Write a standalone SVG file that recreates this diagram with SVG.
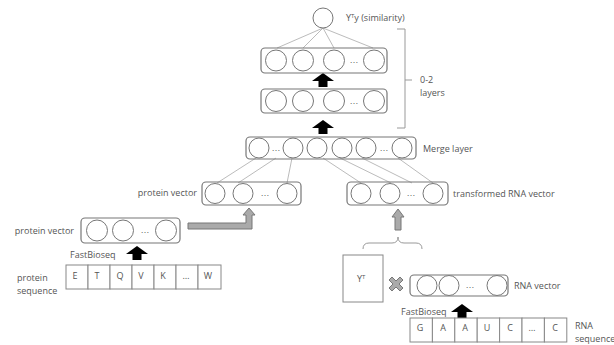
<svg xmlns="http://www.w3.org/2000/svg" width="614" height="345" viewBox="0 0 614 345">
<defs>
<style>
.t{font-family:"Open Sans","Liberation Sans",sans-serif;font-size:9px;fill:#555}
.c{fill:#fff;stroke:#777;stroke-width:1}
.b{fill:none;stroke:#777;stroke-width:1.2}
.cell{fill:#fff;stroke:#888;stroke-width:1}
.ln{stroke:#aaa;stroke-width:0.8;fill:none}
.dots{font-family:"Liberation Sans",sans-serif;font-size:9px;fill:#666;text-anchor:middle}
.blk{fill:#000}
.gry{fill:#aaa;stroke:#777;stroke-width:1}
.ct{font-family:"Open Sans","Liberation Sans",sans-serif;font-size:9px;fill:#555;text-anchor:middle}
</style>
<path id="barrow" d="M0,0 L11,8 L4.5,8 L4.5,14 L-4.5,14 L-4.5,8 L-11,8 Z"/>
</defs>

<g id="connectors">
  <path class="ln" d="M323,28 L277,48 M323,28 L303,48 M323,28 L334,48 M323,28 L373,48"/>
  <path class="ln" d="M256,158 L217,183 M276,158 L238,183 M292,158 L287,183"/>
  <path class="ln" d="M323,158 L361,183 M340,158 L391,183 M362,158 L412,183 M398,158 L433,183"/>
  <use href="#barrow" class="blk" x="323" y="73"/>
  <use href="#barrow" class="blk" x="323" y="120"/>
  <use href="#barrow" class="blk" x="137" y="246"/>
  <use href="#barrow" class="blk" x="462" y="304"/>
  <path class="gry" d="M188,223 L246,223 L246,215 L243,215 L249,208 L255,215 L252,215 L252,229 L188,229 Z"/>
  <path class="gry" d="M398,209 L404,217 L401,217 L401,230 L395,230 L395,217 L392,217 Z"/>
  <path d="M363,249 Q363,243 369,243 L392,243 Q398,243 398,237 Q398,243 404,243 L416,243 Q422,243 422,249" fill="none" stroke="#999" stroke-width="1"/>
  <path d="M397,29 L405,29 L405,128 L397,128 M405,80 L412,80" fill="none" stroke="#999" stroke-width="1"/>
  <path class="gry" transform="translate(396,284)" d="M-7,-4 L-4,-7 L0,-3 L4,-7 L7,-4 L3,0 L7,4 L4,7 L0,3 L-4,7 L-7,4 L-3,0 Z"/>
</g>

<g id="output">
  <circle class="c" cx="323" cy="18" r="10"/>
  <text class="t" x="346" y="21">Y<tspan font-size="6" dy="-3">T</tspan><tspan dy="3">y (similarity)</tspan></text>
</g>

<g id="hidden2">
  <rect class="b" x="261" y="48" width="126" height="25" rx="4"/>
  <circle class="c" cx="276" cy="60.5" r="10.5"/>
  <circle class="c" cx="303" cy="60.5" r="10.5"/>
  <circle class="c" cx="334" cy="60.5" r="10.5"/>
  <text class="dots" x="354" y="63">…</text>
  <circle class="c" cx="374" cy="60.5" r="10.5"/>
</g>

<g id="hidden1">
  <rect class="b" x="261" y="89" width="126" height="24" rx="4"/>
  <circle class="c" cx="276" cy="101" r="10.5"/>
  <circle class="c" cx="303" cy="101" r="10.5"/>
  <circle class="c" cx="334" cy="101" r="10.5"/>
  <text class="dots" x="354" y="103.5">…</text>
  <circle class="c" cx="374" cy="101" r="10.5"/>
</g>

<g id="layers-label">
  <text class="t" x="420" y="83">0-2</text>
  <text class="t" x="420" y="96">layers</text>
</g>

<g id="merge">
  <rect class="b" x="246" y="137" width="170" height="22" rx="4"/>
  <circle class="c" cx="259" cy="148" r="10"/>
  <text class="dots" x="276" y="150.5">…</text>
  <circle class="c" cx="293" cy="148" r="10"/>
  <circle class="c" cx="317" cy="148" r="10"/>
  <circle class="c" cx="342" cy="148" r="10"/>
  <circle class="c" cx="366" cy="148" r="10"/>
  <text class="dots" x="384" y="150.5">…</text>
  <circle class="c" cx="402" cy="148" r="10"/>
  <text class="t" x="423" y="152">Merge layer</text>
</g>

<g id="protein-vector-top">
  <rect class="b" x="202" y="182" width="99" height="23" rx="4"/>
  <circle class="c" cx="215" cy="193.5" r="10"/>
  <circle class="c" cx="243" cy="193.5" r="10"/>
  <text class="dots" x="265" y="196">…</text>
  <circle class="c" cx="287" cy="193.5" r="10"/>
  <text class="t" x="197" y="196" text-anchor="end">protein vector</text>
</g>

<g id="rna-vector-transformed">
  <rect class="b" x="347" y="182" width="101" height="23" rx="4"/>
  <circle class="c" cx="361" cy="193.5" r="10"/>
  <circle class="c" cx="390" cy="193.5" r="10"/>
  <text class="dots" x="411" y="196">…</text>
  <circle class="c" cx="433" cy="193.5" r="10"/>
  <text class="t" x="453" y="197">transformed RNA vector</text>
</g>

<g id="protein-vector">
  <rect class="b" x="81" y="218" width="99" height="25" rx="4"/>
  <circle class="c" cx="97" cy="230.5" r="10.5"/>
  <circle class="c" cx="123" cy="230.5" r="10.5"/>
  <text class="dots" x="145" y="233">…</text>
  <circle class="c" cx="166" cy="230.5" r="10.5"/>
  <text class="t" x="74" y="234" text-anchor="end">protein vector</text>
  <text class="t" x="70" y="258">FastBioseq</text>
</g>

<g id="protein-sequence">
  <rect class="cell" x="66" y="265" width="22" height="24"/>
  <rect class="cell" x="88" y="265" width="22" height="24"/>
  <rect class="cell" x="110" y="265" width="22" height="24"/>
  <rect class="cell" x="132" y="265" width="22" height="24"/>
  <rect class="cell" x="154" y="265" width="22" height="24"/>
  <rect class="cell" x="176" y="265" width="22" height="24"/>
  <rect class="cell" x="198" y="265" width="23" height="24"/>
  <text class="ct" x="75" y="279">E</text>
  <text class="ct" x="97" y="279">T</text>
  <text class="ct" x="120" y="279">Q</text>
  <text class="ct" x="141" y="279">V</text>
  <text class="ct" x="163" y="279">K</text>
  <text class="ct" x="186" y="279">…</text>
  <text class="ct" x="208" y="279">W</text>
  <text class="t" x="17" y="281">protein</text>
  <text class="t" x="17" y="294">sequence</text>
</g>

<g id="yt">
  <rect class="cell" x="343" y="255" width="40" height="47"/>
  <text class="t" x="357" y="282">Y<tspan font-size="6" dy="-3">T</tspan></text>
</g>

<g id="rna-vector">
  <rect class="b" x="410" y="275" width="98" height="21" rx="4"/>
  <circle class="c" cx="427" cy="285.5" r="10"/>
  <circle class="c" cx="449" cy="285.5" r="10"/>
  <text class="dots" x="470" y="288">…</text>
  <circle class="c" cx="497" cy="285.5" r="10"/>
  <text class="t" x="514" y="289">RNA vector</text>
  <text class="t" x="401" y="315">FastBioseq</text>
</g>

<g id="rna-sequence">
  <rect class="cell" x="410" y="318" width="22.4" height="24"/>
  <rect class="cell" x="432.4" y="318" width="22.4" height="24"/>
  <rect class="cell" x="454.8" y="318" width="22.4" height="24"/>
  <rect class="cell" x="477.2" y="318" width="22.4" height="24"/>
  <rect class="cell" x="499.6" y="318" width="22.4" height="24"/>
  <rect class="cell" x="522" y="318" width="22.4" height="24"/>
  <rect class="cell" x="544.4" y="318" width="22.4" height="24"/>
  <text class="ct" x="420" y="331">G</text>
  <text class="ct" x="443" y="331">A</text>
  <text class="ct" x="465" y="331">A</text>
  <text class="ct" x="487" y="331">U</text>
  <text class="ct" x="510" y="331">C</text>
  <text class="ct" x="532" y="331">…</text>
  <text class="ct" x="555" y="331">C</text>
  <text class="t" x="575" y="329">RNA</text>
  <text class="t" x="575" y="342">sequence</text>
</g>
</svg>
